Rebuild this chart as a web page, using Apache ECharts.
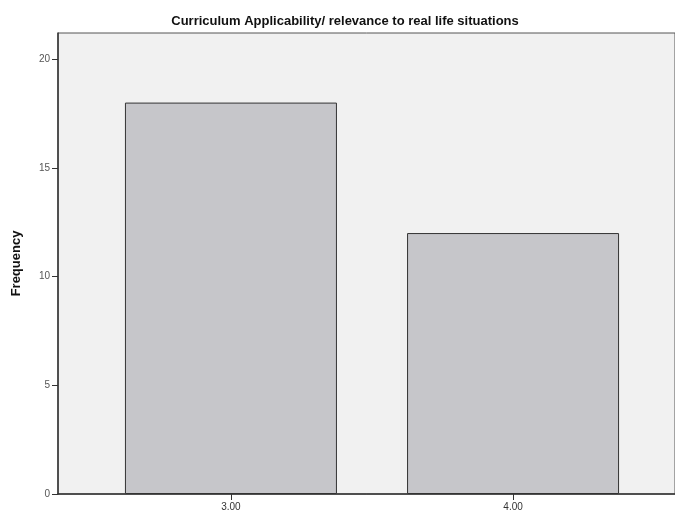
<!DOCTYPE html>
<html>
<head>
<meta charset="utf-8">
<script src="https://cdn.jsdelivr.net/npm/echarts@6/dist/echarts.min.js"></script>
<style>
  html, body { margin: 0; padding: 0; background: #fff; }
  #main { width: 675px; height: 520px; }
</style>
</head>
<body>
<div id="main"></div>
<script>
(function () {
    // data
    var categories = [3, 4];
    var frequency = [18, 12];
    var xTicks = [3, 4];
    var yTicks = [0, 5, 10, 15, 20];

    var myChart = echarts.init(document.getElementById('main'));
    var option;

    option = {
        backgroundColor: '#ffffff',
        title: {
            text: 'Curriculum Applicability/ relevance to real life situations',
            left: 340,
            textAlign: 'center',
            top: 10,
            textStyle: { fontFamily: 'Liberation Sans', fontSize: 13, fontWeight: 'bold', color: '#111' }
        },
        grid: {
            left: 58, top: 33, right: -2, bottom: 26,
            show: true,
            backgroundColor: '#f1f1f1',
            borderColor: '#555',
            borderWidth: 1
        },
        xAxis: {
            type: 'value',
            min: 2.387,
            max: 4.574,
            axisLine: { lineStyle: { color: '#333', width: 1.5 } },
            axisTick: { customValues: xTicks, length: 6, lineStyle: { color: '#333' } },
            axisLabel: {
                customValues: xTicks,
                formatter: function (v) { return v.toFixed(2); },
                fontFamily: 'Liberation Sans', fontSize: 10, color: '#333', margin: 8
            },
            splitLine: { show: false }
        },
        yAxis: {
            type: 'value',
            min: 0,
            max: 21.2,
            name: 'Frequency',
            nameLocation: 'middle',
            nameGap: 35,
            nameTextStyle: { fontFamily: 'Liberation Sans', fontSize: 13, fontWeight: 'bold', color: '#111' },
            axisLine: { show: true, lineStyle: { color: '#333', width: 1.5 } },
            axisTick: { show: true, customValues: yTicks, length: 6, lineStyle: { color: '#333' } },
            axisLabel: {
                customValues: yTicks,
                fontFamily: 'Liberation Sans', fontSize: 10, color: '#555', margin: 8
            },
            splitLine: { show: false }
        },
        series: [
            {
                type: 'bar',
                data: categories.map(function (c, i) { return [c, frequency[i]]; }),
                barWidth: 212,
                itemStyle: { color: '#c6c6ca', borderColor: '#333', borderWidth: 1 }
            }
        ]
    };
    myChart.setOption(option);
})();
</script>
</body>
</html>
